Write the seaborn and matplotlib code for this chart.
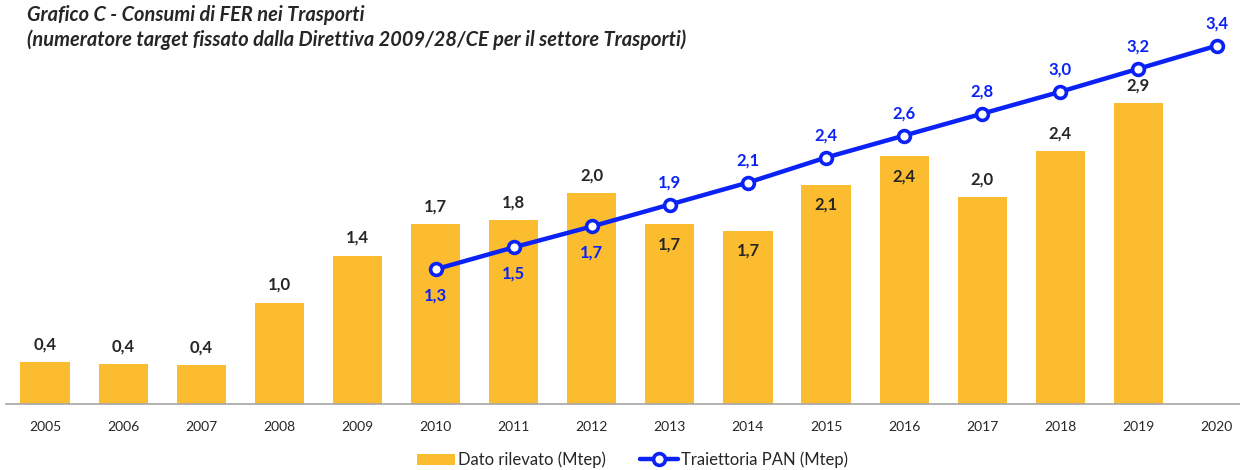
import matplotlib
matplotlib.use("Agg")
import matplotlib.pyplot as plt
import seaborn as sns
import pandas as pd
import numpy as np
from matplotlib.lines import Line2D
from matplotlib.patches import Patch

# ---- data ----
years = ["2005", "2006", "2007", "2008", "2009", "2010", "2011", "2012",
         "2013", "2014", "2015", "2016", "2017", "2018", "2019", "2020"]
dato_rilevato = [0.40, 0.38, 0.37, 0.97, 1.42, 1.72, 1.76, 2.02,
                 1.72, 1.66, 2.10, 2.37, 1.98, 2.42, 2.88, np.nan]
traiettoria_years = ["2010", "2011", "2012", "2013", "2014", "2015",
                     "2016", "2017", "2018", "2019", "2020"]
traiettoria_pan = [1.29, 1.50, 1.70, 1.91, 2.12, 2.36, 2.57, 2.78, 2.99, 3.21, 3.43]
bar_label_inside = ["2013", "2014", "2015", "2016"]
line_label_below = ["2010", "2011", "2012"]
title_lines = ["Grafico C - Consumi di FER nei Trasporti",
               "(numeratore target fissato dalla Direttiva 2009/28/CE per il settore Trasporti)"]
legend_labels = ["Dato rilevato (Mtep)", "Traiettoria PAN (Mtep)"]

# ---- style ----
sns.set_theme(style="white")
plt.rcParams['font.family'] = ['Lato', 'DejaVu Sans']
BAR_C = "#FBBD2F"
LINE_C = "#0A22F5"
TXT_C = "#262626"

fig = plt.figure(figsize=(12.4, 4.7), dpi=100)
ax = fig.add_axes([6/1240, 66/470, 1234/1240, 0.80])

df = pd.DataFrame({"anno": years, "valore": dato_rilevato})
sns.barplot(data=df, x="anno", y="valore", order=years, color=BAR_C,
            saturation=1, width=0.63, ax=ax, edgecolor="none")

pos = [years.index(y) for y in traiettoria_years]
dfl = pd.DataFrame({"x": pos, "y": traiettoria_pan})
sns.lineplot(data=dfl, x="x", y="y", ax=ax, color=LINE_C, linewidth=3.2,
             marker="o", markersize=8.5, markerfacecolor="white",
             markeredgecolor=LINE_C, markeredgewidth=2.6, zorder=5)

ax.set_xlim(-0.5, 15.3)
ax.set_ylim(0, 3.6)

# bar labels
for i, (yr, v) in enumerate(zip(years, dato_rilevato)):
    if np.isnan(v):
        continue
    lab = f"{v:.1f}".replace(".", ",")
    off = -20 if yr in bar_label_inside else 18
    ax.annotate(lab, (i, v), xytext=(0, off), textcoords="offset pixels",
                ha="center", va="center", fontsize=12, fontweight="bold",
                color=TXT_C, zorder=6)

# line labels
for p, yr, v in zip(pos, traiettoria_years, traiettoria_pan):
    lab = f"{v:.1f}".replace(".", ",")
    off = -26 if yr in line_label_below else 22
    ax.annotate(lab, (p, v), xytext=(0, off), textcoords="offset pixels",
                ha="center", va="center", fontsize=12, fontweight="bold",
                color=LINE_C, zorder=6)

ax.set_xlabel("")
ax.set_ylabel("")
ax.set_yticks([])
for s in ["top", "right", "left"]:
    ax.spines[s].set_visible(False)
ax.spines["bottom"].set_color("#A6A6A6")
ax.spines["bottom"].set_linewidth(1.2)
ax.tick_params(axis="x", length=0, pad=12, labelsize=10, labelcolor=TXT_C)

# title
fig.text(27/1240, 1 - 15/470, title_lines[0], ha="left", va="center",
         fontsize=14.4, fontweight="bold", fontstyle="italic", color=TXT_C)
fig.text(27/1240, 1 - 40/470, title_lines[1], ha="left", va="center",
         fontsize=14.4, fontweight="bold", fontstyle="italic", color=TXT_C)

handles = [Patch(facecolor=BAR_C, edgecolor="none"),
           Line2D([0], [0], color=LINE_C, linewidth=3.2, marker="o",
                  markersize=8.5, markerfacecolor="white",
                  markeredgecolor=LINE_C, markeredgewidth=2.6)]
fig.legend(handles, legend_labels, loc="center", bbox_to_anchor=(0.51, 1 - 460/470),
           ncol=2, frameon=False, fontsize=12, handlelength=2.3,
           handletextpad=0.2, columnspacing=2.0, labelcolor=TXT_C)

fig.savefig("out.png", dpi=100)
